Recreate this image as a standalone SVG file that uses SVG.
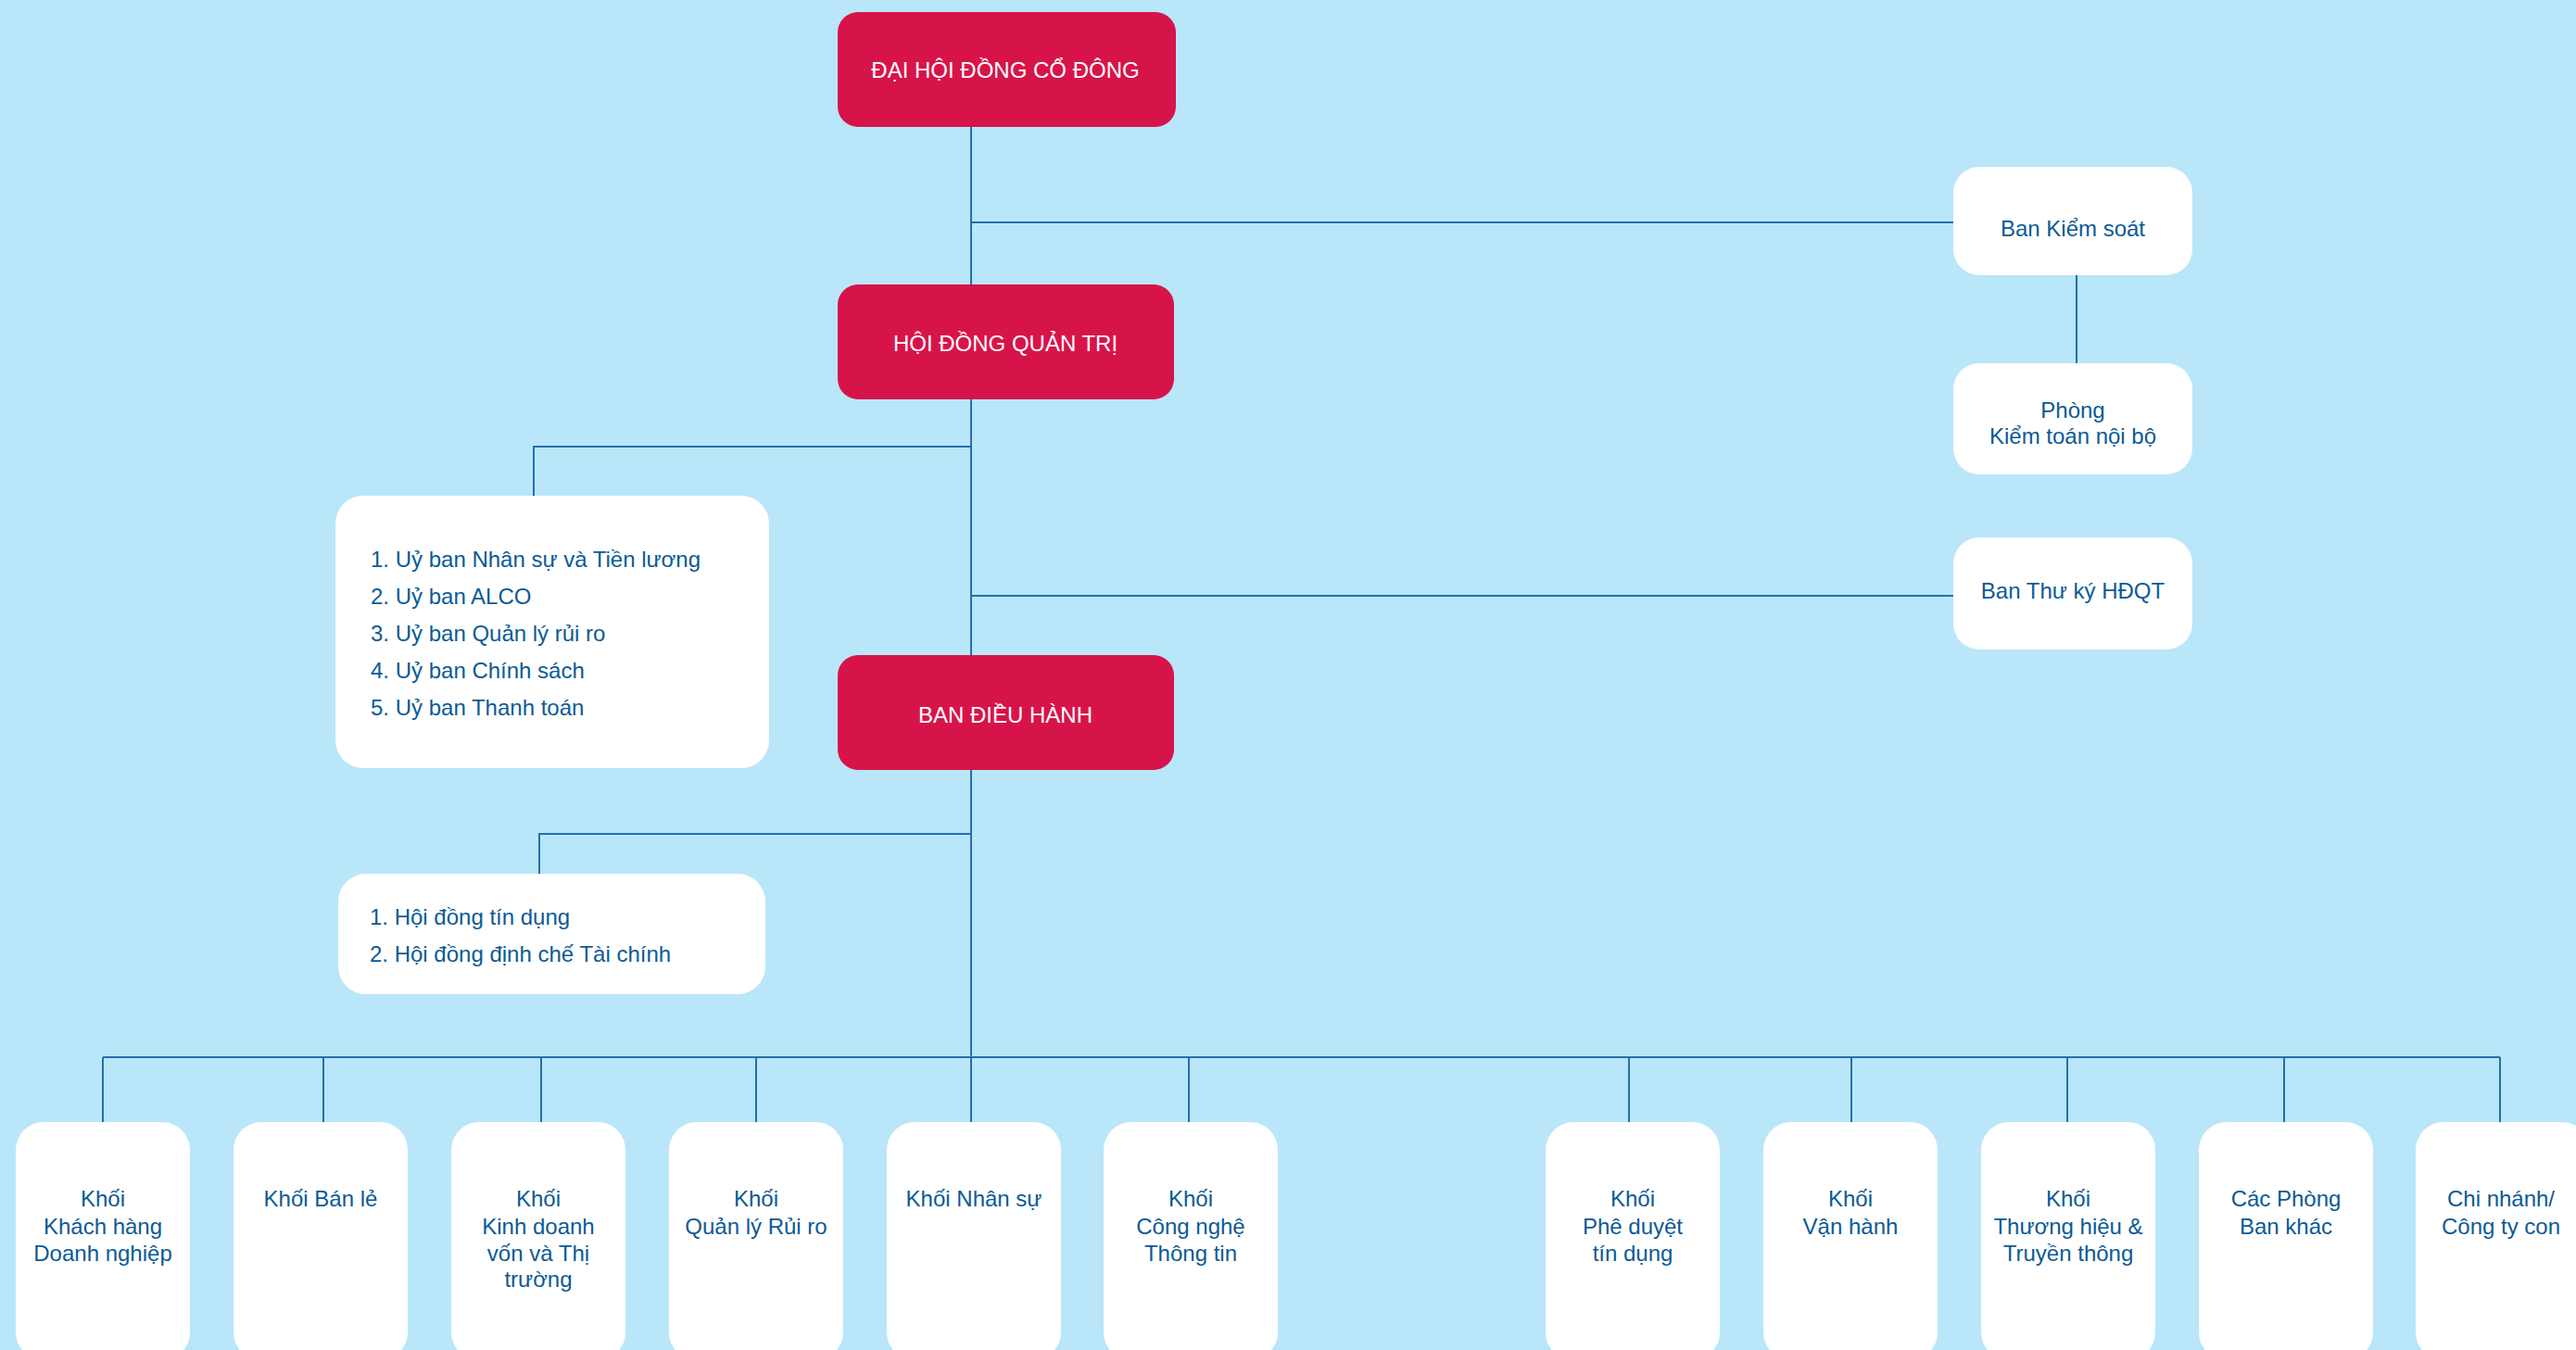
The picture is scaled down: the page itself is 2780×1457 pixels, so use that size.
<svg xmlns="http://www.w3.org/2000/svg" width="2780" height="1457" viewBox="0 0 2780 1457">
<style>
.bg{fill:#BAE6FA}
.red{fill:#D7144A}
.wht{fill:#FFFFFF}
.ln{stroke:#2470A8;stroke-width:2;fill:none}
text{font-family:"Liberation Sans",Arial,sans-serif;font-size:24px}
.tw{fill:#FFFFFF;text-anchor:middle}
.tb{fill:#0C5A95;text-anchor:middle}
.tl{fill:#0C5A95;text-anchor:start}
</style>
<rect class="bg" x="0" y="0" width="2780" height="1457"/>
<g id="connectors">
<path class="ln" d="M1048 137V1141"/>
<path class="ln" d="M1048 240H2108"/>
<path class="ln" d="M2241 297V392"/>
<path class="ln" d="M1048 482H576V535"/>
<path class="ln" d="M1048 643H2108"/>
<path class="ln" d="M1048 900H582V943"/>
<path class="ln" d="M111 1141H2698"/>
<path class="ln" d="M111 1141V1211M349 1141V1211M584 1141V1211M816 1141V1211M1048 1141V1211M1283 1141V1211M1758 1141V1211M1998 1141V1211M2231 1141V1211M2465 1141V1211M2698 1141V1211"/>
</g>
<g id="dhdcd">
<rect class="red" x="904" y="13" width="365" height="124" rx="22"/>
<text class="tw" x="1085" y="84">ĐẠI HỘI ĐỒNG CỔ ĐÔNG</text>
</g>
<g id="hdqt">
<rect class="red" x="904" y="307" width="363" height="124" rx="22"/>
<text class="tw" x="1085" y="379">HỘI ĐỒNG QUẢN TRỊ</text>
</g>
<g id="bdh">
<rect class="red" x="904" y="707" width="363" height="124" rx="22"/>
<text class="tw" x="1085" y="780">BAN ĐIỀU HÀNH</text>
</g>
<g id="ban-kiem-soat">
<rect class="wht" x="2108" y="180" width="258" height="117" rx="28"/>
<text class="tb" x="2237" y="255">Ban Kiểm soát</text>
</g>
<g id="phong-ktnb">
<rect class="wht" x="2108" y="392" width="258" height="120" rx="28"/>
<text class="tb" x="2237" y="451">Phòng</text>
<text class="tb" x="2237" y="479">Kiểm toán nội bộ</text>
</g>
<g id="ban-thu-ky">
<rect class="wht" x="2108" y="580" width="258" height="121" rx="28"/>
<text class="tb" x="2237" y="646">Ban Thư ký HĐQT</text>
</g>
<g id="uy-ban">
<rect class="wht" x="362" y="535" width="468" height="294" rx="30"/>
<text class="tl" x="400" y="612">1. Uỷ ban Nhân sự và Tiền lương</text>
<text class="tl" x="400" y="652">2. Uỷ ban ALCO</text>
<text class="tl" x="400" y="692">3. Uỷ ban Quản lý rủi ro</text>
<text class="tl" x="400" y="732">4. Uỷ ban Chính sách</text>
<text class="tl" x="400" y="772">5. Uỷ ban Thanh toán</text>
</g>
<g id="hoi-dong">
<rect class="wht" x="365" y="943" width="461" height="130" rx="30"/>
<text class="tl" x="399" y="998">1. Hội đồng tín dụng</text>
<text class="tl" x="399" y="1038">2. Hội đồng định chế Tài chính</text>
</g>
<g id="khoi-khdn">
<rect class="wht" x="17" y="1211" width="188" height="257" rx="30"/>
<text class="tb" x="111" y="1302">Khối</text>
<text class="tb" x="111" y="1332">Khách hàng</text>
<text class="tb" x="111" y="1361">Doanh nghiệp</text>
</g>
<g id="khoi-ban-le">
<rect class="wht" x="252" y="1211" width="188" height="257" rx="30"/>
<text class="tb" x="346" y="1302">Khối Bán lẻ</text>
</g>
<g id="khoi-kdv">
<rect class="wht" x="487" y="1211" width="188" height="257" rx="30"/>
<text class="tb" x="581" y="1302">Khối</text>
<text class="tb" x="581" y="1332">Kinh doanh</text>
<text class="tb" x="581" y="1361">vốn và Thị</text>
<text class="tb" x="581" y="1389">trường</text>
</g>
<g id="khoi-qlrr">
<rect class="wht" x="722" y="1211" width="188" height="257" rx="30"/>
<text class="tb" x="816" y="1302">Khối</text>
<text class="tb" x="816" y="1332">Quản lý Rủi ro</text>
</g>
<g id="khoi-nhan-su">
<rect class="wht" x="957" y="1211" width="188" height="257" rx="30"/>
<text class="tb" x="1051" y="1302">Khối Nhân sự</text>
</g>
<g id="khoi-cntt">
<rect class="wht" x="1191" y="1211" width="188" height="257" rx="30"/>
<text class="tb" x="1285" y="1302">Khối</text>
<text class="tb" x="1285" y="1332">Công nghệ</text>
<text class="tb" x="1285" y="1361">Thông tin</text>
</g>
<g id="khoi-pdtd">
<rect class="wht" x="1668" y="1211" width="188" height="257" rx="30"/>
<text class="tb" x="1762" y="1302">Khối</text>
<text class="tb" x="1762" y="1332">Phê duyệt</text>
<text class="tb" x="1762" y="1361">tín dụng</text>
</g>
<g id="khoi-van-hanh">
<rect class="wht" x="1903" y="1211" width="188" height="257" rx="30"/>
<text class="tb" x="1997" y="1302">Khối</text>
<text class="tb" x="1997" y="1332">Vận hành</text>
</g>
<g id="khoi-thth">
<rect class="wht" x="2138" y="1211" width="188" height="257" rx="30"/>
<text class="tb" x="2232" y="1302">Khối</text>
<text class="tb" x="2232" y="1332">Thương hiệu &amp;</text>
<text class="tb" x="2232" y="1361">Truyền thông</text>
</g>
<g id="cac-phong-ban">
<rect class="wht" x="2373" y="1211" width="188" height="257" rx="30"/>
<text class="tb" x="2467" y="1302">Các Phòng</text>
<text class="tb" x="2467" y="1332">Ban khác</text>
</g>
<g id="chi-nhanh">
<rect class="wht" x="2607" y="1211" width="188" height="257" rx="30"/>
<text class="tb" x="2699" y="1302">Chi nhánh/</text>
<text class="tb" x="2699" y="1332">Công ty con</text>
</g>
</svg>
